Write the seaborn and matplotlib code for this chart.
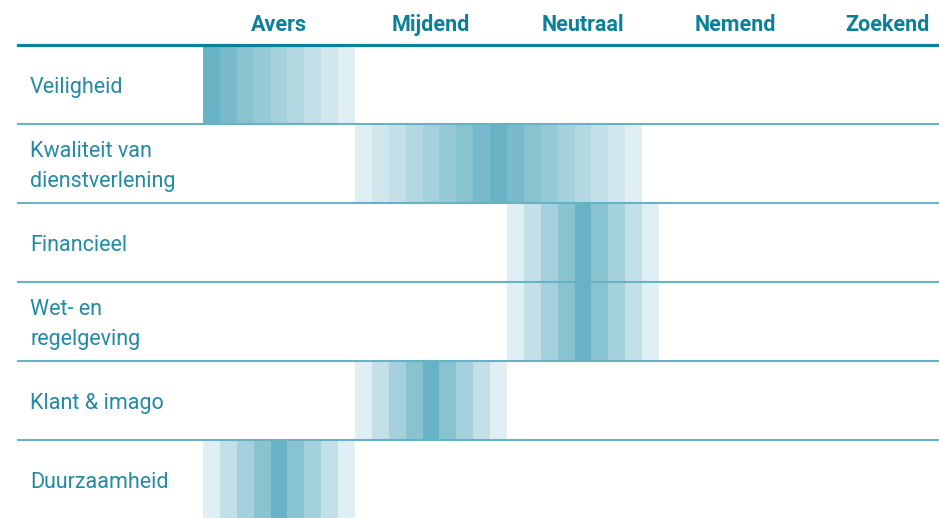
import numpy as np
import pandas as pd
import seaborn as sns
import matplotlib.pyplot as plt
from matplotlib.colors import ListedColormap

# Risk categories (rows) and appetite levels (columns)
categories = ["Veiligheid", "Kwaliteit van\ndienstverlening", "Financieel",
              "Wet- en\nregelgeving", "Klant & imago", "Duurzaamheid"]
appetites = ["Avers", "Mijdend", "Neutraal", "Nemend", "Zoekend"]
stripes_per_level = 9

# first stripe of each category band + stripe intensities (1 = light, 9 = dark)
band_start = [0, 9, 18, 18, 9, 0]
band_values = [
    [9, 8, 7, 6, 5, 4, 3, 2, 1],
    [1, 2, 3, 4, 5, 6, 7, 8, 9, 8, 7, 6, 5, 4, 3, 2, 1],
    [1, 3, 5, 7, 9, 7, 5, 3, 1],
    [1, 3, 5, 7, 9, 7, 5, 3, 1],
    [1, 3, 5, 7, 9, 7, 5, 3, 1],
    [1, 3, 5, 7, 9, 7, 5, 3, 1],
]

shades = ["#E0EFF4", "#D1E7EE", "#C3E0E8", "#B3D8E1", "#A5D1DC",
          "#97CAD7", "#89C3D0", "#78BACB", "#68B2C6"]

n_cols = len(appetites) * stripes_per_level
grid = np.full((len(categories), n_cols), np.nan)
for i, (s, vals) in enumerate(zip(band_start, band_values)):
    grid[i, s:s + len(vals)] = vals
df = pd.DataFrame(grid, index=categories)

W, H = 939, 518
fig = plt.figure(figsize=(W / 100, H / 100), dpi=100)
# heatmap area: x 203..963 px (last column runs off the page), y 45..519 px
left, top, right, bottom = 203, 45, 963, 519
ax = fig.add_axes([left / W, 1 - bottom / H, (right - left) / W, (bottom - top) / H])

sns.heatmap(df, ax=ax, cmap=ListedColormap(shades), vmin=0.5, vmax=9.5,
            mask=df.isna(), cbar=False, xticklabels=False, yticklabels=False)
ax.set_xlabel("")
ax.set_ylabel("")
for sp in ax.spines.values():
    sp.set_visible(False)

px = (right - left) / n_cols  # pixels per stripe
row_px = (bottom - top) / len(categories)
xmin = (18 - left) / (right - left)
xmax = (W - left) / (right - left)

# header line and row separators
ax.axhline(0, xmin=xmin, xmax=xmax, color="#0A809B", lw=2.3, clip_on=False, zorder=5)
for r in range(1, len(categories)):
    ax.axhline(r, xmin=xmin, xmax=xmax, color="#67B3C5", lw=1.5, clip_on=False, zorder=5)

head_col = "#0A809B"
lab_col = "#2389A5"
for j, name in enumerate(appetites):
    ax.text(j * stripes_per_level + stripes_per_level / 2, -20 / row_px, name,
            ha="center", va="center", fontsize=15.5, fontweight="bold",
            family="Roboto", color=head_col, clip_on=False)

for i, name in enumerate(categories):
    ax.text((30 - left) / px, i + 0.5 + 3 / row_px, name, ha="left", va="center",
            fontsize=15.5, family="Roboto", color=lab_col, linespacing=1.6,
            clip_on=False)

fig.savefig("out.png", dpi=100)
